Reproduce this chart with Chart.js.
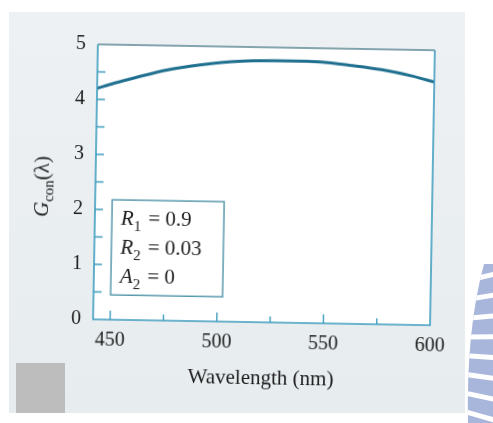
<!DOCTYPE html>
<html>
<head>
<meta charset="utf-8">
<title>Gcon vs wavelength</title>
<script src="https://cdn.jsdelivr.net/npm/chart.js@4.4.1/dist/chart.umd.min.js"></script>
<style>
    html, body { margin: 0; padding: 0; background: #ffffff; }
    #wrap { position: relative; width: 493px; height: 423px; overflow: hidden; }
    #paper { position: absolute; left: 9px; top: 12px; width: 456px; height: 401px;
             background: linear-gradient(to bottom, #edf1f3, #e7ecef); }
    #tab { position: absolute; left: 16px; top: 363px; width: 49px; height: 50px; background: #bdbdbd; }
    #logo { position: absolute; left: 0; top: 0; }
    #chartBox { position: absolute; left: 0; top: 0; width: 493px; height: 423px; transform: rotate(1deg); }
</style>
</head>
<body>
<div id="wrap">
    <div id="paper"></div>
    <div id="tab"></div>
    <canvas id="logo" width="493" height="423"></canvas>
    <div id="chartBox"><canvas id="gainChart" width="493" height="423"></canvas></div>
</div>
<script>
// Gcon(lambda) curve
const wavelength = [442, 450, 460, 475, 490, 500, 510, 525, 540, 550, 560, 575, 590, 600];
const gain = [4.20, 4.30, 4.41, 4.56, 4.66, 4.71, 4.74, 4.76, 4.76, 4.74, 4.70, 4.63, 4.52, 4.42];

// axis ticks
const xTicks = [450, 500, 550, 600];
const xMinorTicks = [475, 525, 575];
const yTicks = [0, 1, 2, 3, 4, 5];
const yMinorTicks = [0.5, 1.5, 2.5, 3.5, 4.5];

// parameter box lines: symbol, subscript, value
const paramSymbols = ['R', 'R', 'A'];
const paramSubs = ['1', '2', '2'];
const paramValues = ['0.9', '0.03', '0'];

const SERIF = '"Liberation Serif", "DejaVu Serif", serif';
const FRAME = '#3f9dbf';
const INK = '#1d1d1d';

// striped arc on the right margin
(function drawLogo() {
    const c = document.getElementById('logo').getContext('2d');
    c.save();
    c.beginPath();
    c.moveTo(484, 264);
    c.quadraticCurveTo(466, 330, 468, 423);
    c.lineTo(493, 423);
    c.lineTo(493, 264);
    c.closePath();
    c.fillStyle = '#a9b6dc';
    c.fill();
    c.clip();
    c.strokeStyle = '#ffffff';
    c.lineWidth = 5;
    for (let y = 280; y < 430; y += 19) {
        const tilt = (340 - y) * 0.1;
        c.beginPath();
        c.moveTo(462, y + tilt * 0.3);
        c.lineTo(495, y - tilt);
        c.stroke();
    }
    c.restore();
})();

const framePlugin = {
    id: 'framePlugin',
    beforeDraw(chart) {
        const { ctx, chartArea: a } = chart;
        ctx.save();
        ctx.fillStyle = '#ffffff';
        ctx.fillRect(a.left, a.top, a.right - a.left, a.bottom - a.top);
        ctx.restore();
    },
    afterDraw(chart) {
        const { ctx, chartArea: a, scales } = chart;
        const xs = scales.x, ys = scales.y;
        ctx.save();

        // frame
        ctx.lineWidth = 1.6;
        ctx.strokeStyle = '#5e8995';
        ctx.beginPath();
        ctx.moveTo(a.left, a.top);
        ctx.lineTo(a.right, a.top);
        ctx.stroke();
        ctx.strokeStyle = FRAME;
        ctx.beginPath();
        ctx.moveTo(a.right, a.top);
        ctx.lineTo(a.right, a.bottom);
        ctx.lineTo(a.left, a.bottom);
        ctx.lineTo(a.left, a.top);
        ctx.stroke();

        // inward ticks
        ctx.lineWidth = 1.4;
        ctx.beginPath();
        xTicks.forEach(v => {
            const px = xs.getPixelForValue(v);
            if (v < 600) { ctx.moveTo(px, a.bottom); ctx.lineTo(px, a.bottom - 9); }
        });
        xMinorTicks.forEach(v => {
            const px = xs.getPixelForValue(v);
            ctx.moveTo(px, a.bottom); ctx.lineTo(px, a.bottom - 6);
        });
        yTicks.concat(yMinorTicks).forEach(v => {
            const py = ys.getPixelForValue(v);
            if (v > 0 && v < 5) { ctx.moveTo(a.left, py); ctx.lineTo(a.left + 8, py); }
        });
        ctx.stroke();

        // parameter box
        const bx0 = xs.getPixelForValue(450), bx1 = xs.getPixelForValue(502.5);
        const by0 = ys.getPixelForValue(2.18), by1 = ys.getPixelForValue(0.45);
        ctx.strokeStyle = '#4e93a8';
        ctx.lineWidth = 1.4;
        ctx.strokeRect(bx0, by0, bx1 - bx0, by1 - by0);

        ctx.fillStyle = INK;
        ctx.textBaseline = 'alphabetic';
        ctx.textAlign = 'left';
        paramSymbols.forEach((sym, i) => {
            let x = bx0 + 9;
            const y = by0 + 25 + i * 29;
            ctx.font = 'italic 21px ' + SERIF;
            ctx.fillText(sym, x, y);
            x += ctx.measureText(sym).width;
            ctx.font = '15px ' + SERIF;
            ctx.fillText(paramSubs[i], x, y + 6);
            x += ctx.measureText(paramSubs[i]).width + 7;
            ctx.font = '21px ' + SERIF;
            ctx.fillText('= ' + paramValues[i], x, y);
        });

        // y axis title: G_con(λ)
        ctx.save();
        ctx.translate(48, 190);
        ctx.rotate(-Math.PI / 2);
        ctx.font = 'italic 21px ' + SERIF;
        const wG = ctx.measureText('G').width;
        ctx.font = '15px ' + SERIF;
        const wSub = ctx.measureText('con').width;
        ctx.font = '21px ' + SERIF;
        const wTail = ctx.measureText('(λ)').width;
        let tx = -(wG + wSub + wTail) / 2;
        ctx.font = 'italic 21px ' + SERIF;
        ctx.fillText('G', tx, 0);
        tx += wG;
        ctx.font = '15px ' + SERIF;
        ctx.fillText('con', tx, 5);
        tx += wSub;
        ctx.font = '21px ' + SERIF;
        ctx.fillText('(λ)', tx, 0);
        ctx.restore();

        // x axis title
        ctx.font = '21px ' + SERIF;
        ctx.textAlign = 'center';
        ctx.textBaseline = 'middle';
        ctx.fillText('Wavelength (nm)', (a.left + a.right) / 2, 378);

        ctx.restore();
    }
};

new Chart(document.getElementById('gainChart'), {
    type: 'line',
    data: {
        datasets: [{
            data: wavelength.map((w, i) => ({ x: w, y: gain[i] })),
            borderColor: '#1f6f8f',
            borderWidth: 3,
            pointRadius: 0,
            cubicInterpolationMode: 'monotone',
            fill: false
        }]
    },
    options: {
        responsive: false,
        animation: false,
        events: [],
        layout: { padding: { left: 0, top: 47, right: 61, bottom: 0 } },
        plugins: { legend: { display: false }, tooltip: { enabled: false } },
        scales: {
            x: {
                type: 'linear',
                min: 442,
                max: 600,
                grid: { display: false, drawTicks: false },
                border: { display: false },
                afterBuildTicks: (scale) => { scale.ticks = xTicks.map(v => ({ value: v })); },
                afterFit: (scale) => { scale.height = 101; },
                ticks: { color: INK, font: { family: SERIF, size: 20 }, padding: 9, maxRotation: 0 }
            },
            y: {
                min: 0,
                max: 5,
                grid: { display: false, drawTicks: false },
                border: { display: false },
                afterBuildTicks: (scale) => { scale.ticks = yTicks.map(v => ({ value: v })); },
                afterFit: (scale) => { scale.width = 95; },
                ticks: { color: INK, font: { family: SERIF, size: 20 }, padding: 12 }
            }
        }
    },
    plugins: [framePlugin]
});
</script>
</body>
</html>
